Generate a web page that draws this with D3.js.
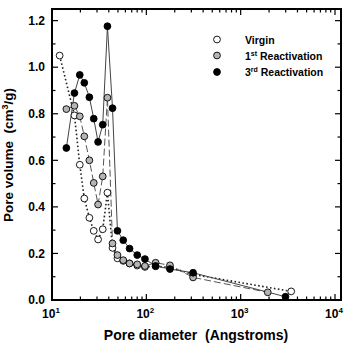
<!DOCTYPE html>
<html><head><meta charset="utf-8">
<script src="https://cdn.jsdelivr.net/npm/d3@7"></script>
<style>
body{margin:0;background:#fff;}
svg{display:block;font-family:"Liberation Sans",Arial,sans-serif;font-weight:bold;}
text{white-space:pre;}
</style></head>
<body>
<svg id="c" width="347" height="343"></svg>
<script>
// Data (pore diameter in Angstroms, pore volume in cm3/g)
const virginD = [12.05,17.3,19.7,22.0,24.9,27.7,30.8,34.5,38.7,43.8,49.4,56.9,66.4,80.1,96.7,125.5,178,313,3430];
const virginV = [1.05,0.793,0.581,0.436,0.353,0.297,0.26,0.304,0.461,0.224,0.179,0.168,0.157,0.148,0.142,0.145,0.14,0.11,0.037];
const firstD = [14.2,17.3,19.7,22.0,24.9,27.7,30.8,34.5,38.7,43.8,49.4,56.9,66.4,80.1,96.7,125.5,178,313,1936];
const firstV = [0.82,0.834,0.789,0.703,0.60,0.503,0.41,0.531,0.869,0.243,0.193,0.171,0.157,0.153,0.146,0.16,0.149,0.097,0.033];
const thirdD = [14.2,17.3,19.7,22.0,24.9,27.7,30.8,34.5,38.7,43.8,49.4,56.9,66.4,80.1,96.7,125.5,178,313,2985];
const thirdV = [0.653,0.889,0.967,0.933,0.871,0.779,0.679,0.753,1.176,0.824,0.297,0.257,0.221,0.193,0.176,0.146,0.133,0.117,0.014];
const yTicks = [0.0,0.2,0.4,0.6,0.8,1.0,1.2];
const xTickExp = [1,2,3,4];
const legendLabels = [["Virgin",""],["1","st"],["3","rd"]];

const svg = d3.select("#c");
const L=52, R=341, T=9, B=300;
const x = d3.scaleLog().domain([10,1e4]).range([L,335]);
const y = d3.scaleLinear().domain([0,1.25]).range([B,T]);

// minor/major ticks
const g = svg.append("g").attr("stroke","#000");
const yMinor = d3.range(0,1.25,0.1).map(v=>+v.toFixed(2));
yMinor.forEach(v=>{
  const major = yTicks.some(t=>Math.abs(t-v)<1e-6);
  const len = major?6:3.5;
  g.append("line").attr("x1",L).attr("x2",L+len).attr("y1",y(v)).attr("y2",y(v)).attr("stroke-width",1.2);
  g.append("line").attr("x1",R).attr("x2",R-len).attr("y1",y(v)).attr("y2",y(v)).attr("stroke-width",1.2);
});
const xMinor=[];
for(let e=1;e<4;e++) for(let k=1;k<10;k++) xMinor.push(k*Math.pow(10,e));
xMinor.push(1e4);
xMinor.forEach(v=>{
  const major = Math.abs(Math.log10(v)-Math.round(Math.log10(v)))<1e-9;
  const len = major?6:3.5;
  g.append("line").attr("x1",x(v)).attr("x2",x(v)).attr("y1",B).attr("y2",B-len).attr("stroke-width",1.2);
  g.append("line").attr("x1",x(v)).attr("x2",x(v)).attr("y1",T).attr("y2",T+len).attr("stroke-width",1.2);
});
svg.append("rect").attr("x",L).attr("y",T).attr("width",R-L).attr("height",B-T)
  .attr("fill","none").attr("stroke","#000").attr("stroke-width",2);

// tick labels
svg.selectAll(".yl").data(yTicks).enter().append("text")
  .attr("x",45).attr("y",d=>y(d)+4.2).attr("text-anchor","end")
  .attr("font-size",12).text(d=>d.toFixed(1));
xTickExp.forEach(e=>{
  const t = svg.append("text").attr("x",x(Math.pow(10,e))-1).attr("y",318).attr("text-anchor","middle").attr("font-size",12);
  t.append("tspan").text("10");
  t.append("tspan").attr("dy",-5).attr("font-size",8).text(e);
});

// axis titles
svg.append("text").attr("x",196).attr("y",340).attr("text-anchor","middle").attr("font-size",14).text("Pore diameter  (Angstroms)");
const yt = svg.append("text").attr("transform","translate(13,155) rotate(-90)").attr("text-anchor","middle").attr("font-size",13.5);
yt.append("tspan").text("Pore volume  (cm");
yt.append("tspan").attr("dy",-5).attr("font-size",9).text("3");
yt.append("tspan").attr("dy",5).text("/g)");

// series
const series = [
  {d:virginD,v:virginV,fill:"#fff",stroke:"#222",dash:"1.6,2.4",w:1.6},
  {d:firstD,v:firstV,fill:"#b4b4b4",stroke:"#555",dash:"7,3",w:1},
  {d:thirdD,v:thirdV,fill:"#000",stroke:"#444",dash:null,w:1}
];
const line = d3.line().x(p=>x(p[0])).y(p=>y(p[1]));
series.forEach(s=>{
  const pts = s.d.map((d,i)=>[d,s.v[i]]);
  const p = svg.append("path").attr("d",line(pts)).attr("fill","none").attr("stroke",s.stroke).attr("stroke-width",s.w);
  if(s.dash) p.attr("stroke-dasharray",s.dash);
});
series.forEach(s=>{
  const pts = s.d.map((d,i)=>[d,s.v[i]]);
  svg.append("g").selectAll("circle").data(pts).enter().append("circle")
    .attr("cx",p=>x(p[0])).attr("cy",p=>y(p[1])).attr("r",3.4)
    .attr("fill",s.fill).attr("stroke","#000").attr("stroke-width",0.9);
});

// legend
const ly=[39.5,55.5,72];
legendLabels.forEach((lab,i)=>{
  svg.append("circle").attr("cx",217).attr("cy",ly[i]).attr("r",3.4)
    .attr("fill",series[i].fill).attr("stroke","#000").attr("stroke-width",0.9);
  const t = svg.append("text").attr("x",245).attr("y",ly[i]+4).attr("font-size",10.5);
  if(i===0){ t.text(lab[0]); }
  else {
    t.append("tspan").text(lab[0]);
    t.append("tspan").attr("dy",-4).attr("font-size",7).text(lab[1]);
    t.append("tspan").attr("dy",4).text(" Reactivation");
  }
});
</script>
</body></html>
